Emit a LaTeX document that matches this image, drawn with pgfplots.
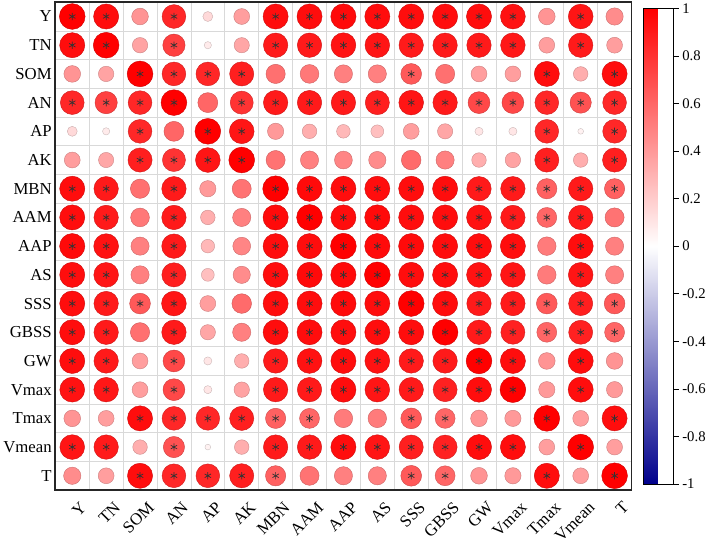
\documentclass[border=0pt]{standalone}
\usepackage{pgfplots}
\usepackage{pgfplotstable}
\usepackage{fontspec}
\setmainfont{Liberation Serif}
\pgfplotsset{compat=1.18}

% correlation coefficients (row = variable on y axis, column cJ = variable on x axis)
\pgfplotstableread{
c0 c1 c2 c3 c4 c5 c6 c7 c8 c9 c10 c11 c12 c13 c14 c15 c16
1 .95 .42 .85 .15 .38 .95 .95 .96 .95 .95 .95 .95 .93 .42 .92 .45
.95 1 .36 .75 .08 .35 .9 .9 .93 .92 .9 .9 .9 .91 .38 .9 .38
.42 .36 1 .85 .85 .88 .56 .53 .5 .5 .65 .56 .38 .38 .95 .32 .95
.85 .75 .85 1 .6 .8 .9 .9 .9 .88 .92 .9 .72 .72 .85 .68 .85
.15 .08 .85 .6 1 .92 .4 .32 .28 .25 .38 .35 .1 .1 .85 .05 .85
.38 .35 .88 .8 .92 1 .55 .5 .48 .45 .58 .5 .32 .36 .88 .32 .88
.95 .9 .56 .9 .4 .55 1 .96 .95 .95 .95 .95 .9 .9 .62 .9 .62
.95 .9 .53 .9 .32 .5 .96 1 .95 .96 .95 .95 .93 .9 .6 .9 .55
.96 .93 .5 .9 .28 .48 .95 .95 1 .96 .96 .95 .95 .95 .52 .95 .5
.95 .92 .5 .88 .25 .45 .95 .96 .96 1 .95 .95 .93 .92 .52 .92 .5
.95 .9 .65 .92 .38 .58 .95 .95 .96 .95 1 .95 .9 .9 .65 .88 .65
.95 .9 .56 .9 .35 .5 .95 .95 .95 .95 .95 1 .9 .87 .6 .87 .6
.95 .9 .38 .72 .1 .32 .9 .93 .95 .93 .9 .9 1 .95 .42 .95 .42
.93 .91 .38 .72 .1 .36 .9 .9 .95 .92 .9 .87 .95 1 .4 .95 .4
.42 .38 .95 .85 .85 .88 .62 .6 .52 .52 .65 .6 .42 .4 1 .38 .95
.92 .9 .32 .68 .05 .32 .9 .9 .95 .92 .88 .87 .95 .95 .38 1 .38
.45 .38 .95 .85 .85 .88 .62 .55 .5 .5 .65 .6 .42 .4 .95 .38 1
}\Rtab

% significance flags (1 = marked with *)
\pgfplotstableread{
c0 c1 c2 c3 c4 c5 c6 c7 c8 c9 c10 c11 c12 c13 c14 c15 c16
1 1 0 1 0 0 1 1 1 1 1 1 1 1 0 1 0
1 1 0 1 0 0 1 1 1 1 1 1 1 1 0 1 0
0 0 1 1 1 1 0 0 0 0 1 0 0 0 1 0 1
1 1 1 1 0 1 1 1 1 1 1 1 1 1 1 1 1
0 0 1 0 1 1 0 0 0 0 0 0 0 0 1 0 1
0 0 1 1 1 1 0 0 0 0 0 0 0 0 1 0 1
1 1 0 1 0 0 1 1 1 1 1 1 1 1 1 1 1
1 1 0 1 0 0 1 1 1 1 1 1 1 1 1 1 0
1 1 0 1 0 0 1 1 1 1 1 1 1 1 0 1 0
1 1 0 1 0 0 1 1 1 1 1 1 1 1 0 1 0
1 1 1 1 0 0 1 1 1 1 1 1 1 1 1 1 1
1 1 0 1 0 0 1 1 1 1 1 1 1 1 1 1 1
1 1 0 1 0 0 1 1 1 1 1 1 1 1 0 1 0
1 1 0 1 0 0 1 1 1 1 1 1 1 1 0 1 0
0 0 1 1 1 1 1 1 0 0 1 1 0 0 1 0 1
1 1 0 1 0 0 1 1 1 1 1 1 1 1 0 1 0
0 0 1 1 1 1 1 0 0 0 1 1 0 0 1 0 1
}\Stab

\begin{document}
\begin{tikzpicture}
\begin{axis}[
  scale only axis,
  width=568pt, height=481pt,
  xmin=-0.5, xmax=16.5, ymin=-0.5, ymax=16.5,
  y dir=reverse,
  xtick={0,...,16}, ytick={0,...,16},
  xticklabels={Y,TN,SOM,AN,AP,AK,MBN,AAM,AAP,AS,SSS,GBSS,GW,Vmax,Tmax,Vmean,T},
  yticklabels={Y,TN,SOM,AN,AP,AK,MBN,AAM,AAP,AS,SSS,GBSS,GW,Vmax,Tmax,Vmean,T},
  tick label style={font=\fontsize{16.5}{19}\selectfont},
  x tick label style={rotate=45, anchor=north east, xshift=1pt, yshift=-9pt},
  major tick length=0pt, minor tick length=0pt,
  minor xtick={0.5,1.5,...,15.5}, minor ytick={0.5,1.5,...,15.5},
  xminorgrids, yminorgrids,
  minor grid style={black!15, line width=0.6pt},
  axis line style={black!85, line width=1.8pt},
  colormap={rwb}{rgb255(0cm)=(0,0,140); rgb255(1cm)=(255,255,255); rgb255(2cm)=(255,0,0)},
  point meta min=-1, point meta max=1,
  colorbar,
  colorbar style={
    at={(parent axis.north east)}, anchor=north west, xshift=3pt, yshift=-6pt,
    width=30pt, height=469pt,
    ytick={-1,-0.8,-0.6,-0.4,-0.2,0,0.2,0.4,0.6,0.8,1},
    yticklabels={-1,-0.8,-0.6,-0.4,-0.2,0,0.2,0.4,0.6,0.8,1},
    yticklabel style={font=\fontsize{14.5}{17}\selectfont},
    ytick pos=right, tick align=outside, major tick length=5pt,
    ytick style={black, line width=0.5pt},
    axis line style={black, line width=0.8pt},
  },
]
\pgfplotsinvokeforeach{0,...,16}{
  \addplot[scatter, only marks, mark=*, point meta=explicit,
    visualization depends on={\thisrow{c#1}\as\rr},
    scatter/@pre marker code/.append style={/tikz/mark size={12.7*sqrt(abs(\rr))}}]
    table[x expr=#1, y expr=\coordindex, meta=c#1] {\Rtab};
  \addplot[scatter, only marks, mark=asterisk, point meta=explicit,
    scatter/use mapped color={draw=black!80, fill=black!80},
    line width=0.7pt,
    visualization depends on={\thisrow{c#1}\as\ss},
    scatter/@pre marker code/.append style={/tikz/mark size={3.6*\ss}}]
    table[x expr=#1, y expr=\coordindex, meta=c#1] {\Stab};
}
\end{axis}
\end{tikzpicture}
\end{document}
